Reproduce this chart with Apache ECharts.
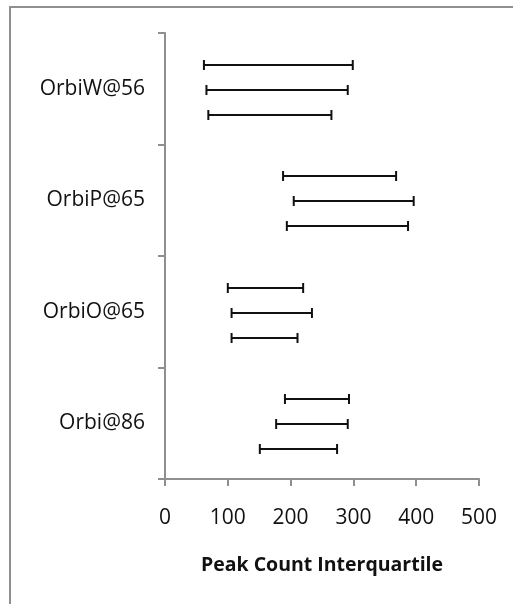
<!DOCTYPE html>
<html>
<head>
<meta charset="utf-8">
<script src="https://cdn.jsdelivr.net/npm/echarts@6/dist/echarts.min.js"></script>
<style>html,body{margin:0;padding:0;background:#fff;}#main{width:513px;height:604px;}</style>
</head>
<body>
<div id="main"></div>
<script>
const categories = ['OrbiW@56', 'OrbiP@65', 'OrbiO@65', 'Orbi@86'];
const xTicks = [0, 100, 200, 300, 400, 500];
// three interval series per category (top, middle, bottom within each group)
const topLow = [62, 188, 100, 191];
const topHigh = [299, 368, 220, 293];
const midLow = [66, 205, 106, 177];
const midHigh = [291, 396, 234, 291];
const botLow = [69, 194, 106, 151];
const botHigh = [265, 387, 211, 274];

const seriesDefs = [
  { name: 'Top', low: topLow, high: topHigh, off: -0.214 },
  { name: 'Middle', low: midLow, high: midHigh, off: 0.01 },
  { name: 'Bottom', low: botLow, high: botHigh, off: 0.234 }
];

const chart = echarts.init(document.getElementById('main'), null, { renderer: 'canvas' });
const FONT = '"Open Sans", "Noto Sans", sans-serif';
const lineStyle = { stroke: '#111', lineWidth: 2 };

function makeRender(off) {
  return function (params, api) {
    const cat = api.value(2);
    const lo = api.coord([api.value(0), cat]);
    const hi = api.coord([api.value(1), cat]);
    const band = api.size([0, 1])[1];
    const y = Math.round(lo[1] + off * band);
    const h = 5;
    return {
      type: 'group',
      children: [
        { type: 'line', shape: { x1: lo[0], y1: y, x2: hi[0], y2: y }, style: lineStyle },
        { type: 'line', shape: { x1: lo[0], y1: y - h, x2: lo[0], y2: y + h }, style: lineStyle },
        { type: 'line', shape: { x1: hi[0], y1: y - h, x2: hi[0], y2: y + h }, style: lineStyle }
      ]
    };
  };
}

chart.setOption({
  animation: false,
  backgroundColor: '#fff',
  graphic: [{
    type: 'rect',
    shape: { x: 10, y: 7, width: 800, height: 900 },
    style: { fill: 'none', stroke: '#8f8f8f', lineWidth: 2 },
    silent: true
  }],
  grid: { left: 165, right: 34, top: 33, bottom: 125 },
  xAxis: {
    type: 'value', min: xTicks[0], max: xTicks[xTicks.length - 1], interval: 100,
    name: 'Peak Count Interquartile', nameLocation: 'middle', nameGap: 76,
    nameTextStyle: { fontFamily: FONT, fontSize: 19.5, fontWeight: 'bold', color: '#111' },
    axisLine: { show: true, lineStyle: { color: '#8f8f8f', width: 2 } },
    axisTick: { show: true, length: 7, lineStyle: { color: '#8f8f8f', width: 2 } },
    axisLabel: { fontFamily: FONT, fontSize: 21, color: '#111', margin: 29 },
    splitLine: { show: false }
  },
  yAxis: {
    type: 'category', data: categories, inverse: true,
    axisLine: { show: true, lineStyle: { color: '#8f8f8f', width: 2 } },
    axisTick: { show: true, length: 7, lineStyle: { color: '#8f8f8f', width: 2 } },
    axisLabel: { fontFamily: FONT, fontSize: 21, color: '#111', margin: 20 },
    splitLine: { show: false }
  },
  series: seriesDefs.map(s => ({
    type: 'custom',
    name: s.name,
    renderItem: makeRender(s.off),
    encode: { x: [0, 1], y: 2 },
    data: categories.map((c, i) => [s.low[i], s.high[i], i])
  }))
});
</script>
</body>
</html>
